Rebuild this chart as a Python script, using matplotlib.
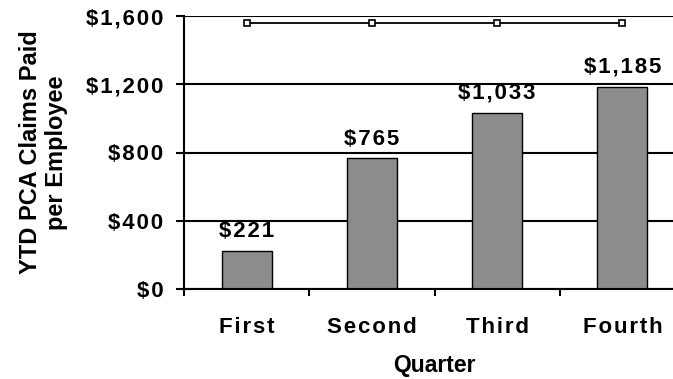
import matplotlib
matplotlib.use("Agg")
import matplotlib.pyplot as plt
from matplotlib.ticker import FuncFormatter

categories = ["First", "Second", "Third", "Fourth"]
values = [221, 765, 1033, 1185]
labels = ["$221", "$765", "$1,033", "$1,185"]
line_values = [1560, 1560, 1560, 1560]
yticks = [0, 400, 800, 1200, 1600]

plt.rcParams['font.family'] = ['Liberation Sans', 'DejaVu Sans']
plt.rcParams['font.weight'] = 'bold'

HS = "\u200a"


def spaced(s):
    return HS.join(s)


fig = plt.figure(figsize=(6.73, 3.79), dpi=100)
ax = fig.add_axes([184/673, 90/379, 501/673, 273/379])

x = list(range(len(categories)))
ax.bar(x, values, width=0.4, color='#8c8c8c', edgecolor='black', linewidth=1.0, zorder=3)
ax.plot(x, line_values, color='black', lw=1.3, marker='s', ms=4, mfc='white', mec='black',
        mew=1.2, zorder=4, clip_on=False)

for xi, v, lab in zip(x, values, labels):
    ax.annotate(spaced(lab), (xi, v), xytext=(0, 10), textcoords='offset points', ha='center',
                va='baseline', fontsize=16, fontweight='bold')

ax.set_xlim(-0.5, 3.5)
ax.set_ylim(0, 1600)
ax.set_yticks(yticks)
ax.yaxis.set_major_formatter(FuncFormatter(lambda v, p: spaced(f"${int(v):,}")))
ax.set_xticks([-0.5, 0.5, 1.5, 2.5, 3.5])
ax.set_xticklabels([])
ax.set_xticks(x, minor=True)
ax.set_xticklabels([spaced(c) for c in categories], minor=True)
ax.tick_params(axis='x', which='minor', length=0, pad=20, labelsize=16)
ax.tick_params(axis='x', which='major', length=5, width=1.5, direction='out')
ax.tick_params(axis='y', length=6, width=1.5, direction='out', labelsize=16, pad=9)
for lab in ax.get_xticklabels(minor=True) + ax.get_yticklabels():
    lab.set_fontweight('bold')

ax.yaxis.grid(True, color='black', lw=1.5, zorder=0)
for s in ['top', 'right']:
    ax.spines[s].set_visible(False)
for s in ['left', 'bottom']:
    ax.spines[s].set_linewidth(1.5)
    ax.spines[s].set_zorder(5)

ax.set_xlabel("Quarter", fontsize=16.5, fontweight='bold', labelpad=12)
ax.set_ylabel("YTD PCA Claims Paid\nper Employee", fontsize=17, fontweight='bold',
              linespacing=1.15)
ax.yaxis.set_label_coords(-0.232, 0.5)

fig.savefig("out.png", dpi=100)
